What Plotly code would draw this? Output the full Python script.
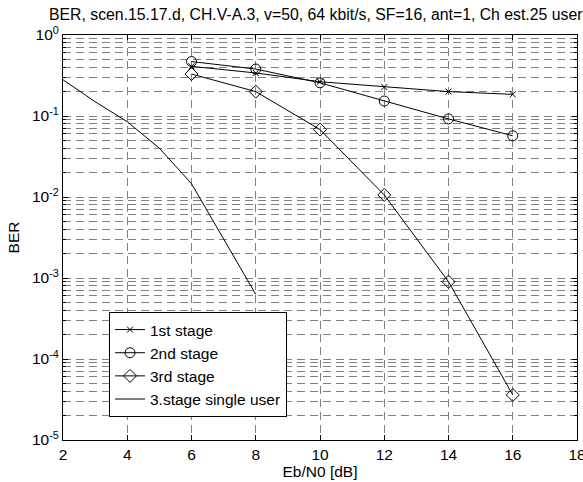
import plotly.graph_objects as go

# ---- data ----
x_stage = [6, 8, 10, 12, 14, 16]
ber_1st = [0.41, 0.34, 0.265, 0.228, 0.20, 0.185]
ber_2nd = [0.47, 0.38, 0.257, 0.153, 0.092, 0.057]
ber_3rd = [0.33, 0.20, 0.068, 0.0106, 0.0009, 3.6e-5]
x_single = [2, 3, 4, 5, 6, 7, 8]
ber_single = [0.28, 0.15, 0.085, 0.04, 0.0146, 0.003, 0.00063]

x_ticks = [2, 4, 6, 8, 10, 12, 14, 16, 18]
y_exps = [0, -1, -2, -3, -4, -5]
y_ticktext = ["10<sup>%d</sup>" % e for e in y_exps]

title = "BER, scen.15.17.d, CH.V-A.3, v=50, 64 kbit/s, SF=16, ant=1, Ch est.25 users"

FONT = "Liberation Sans, Arial, sans-serif"
FS = 15.5
W, H = 583, 482
L, R, T, B = 63, 6, 35, 42

fig = go.Figure()
line = dict(color="black", width=1)
fig.add_trace(go.Scatter(x=x_stage, y=ber_1st, mode="lines+markers", name="1st stage",
                         line=line, marker=dict(symbol="x-thin-open", size=6,
                                                line=dict(color="black", width=1), color="black")))
fig.add_trace(go.Scatter(x=x_stage, y=ber_2nd, mode="lines+markers", name="2nd stage",
                         line=line, marker=dict(symbol="circle-open", size=10, color="black",
                                                line=dict(width=1))))
fig.add_trace(go.Scatter(x=x_stage, y=ber_3rd, mode="lines+markers", name="3rd stage",
                         line=line, marker=dict(symbol="diamond-open", size=10, color="black",
                                                line=dict(width=1))))
fig.add_trace(go.Scatter(x=x_single, y=ber_single, mode="lines", name="3.stage single user",
                         line=line))

grid = dict(gridcolor="#808080", gridwidth=1, griddash="8px,5px")
minor_vals = [m * 10.0 ** e for e in range(-5, 0) for m in range(2, 10)]

PH = H - T - B
fig.update_layout(
    width=W, height=H,
    margin=dict(l=L, r=R, t=T, b=B, pad=0, autoexpand=False),
    paper_bgcolor="white", plot_bgcolor="white",
    font=dict(family=FONT, size=FS, color="black"),
    showlegend=True,
    legend=dict(x=(109 - L) / (W - L - R), y=1 - (364.5 - T) / PH,
                xanchor="left", yanchor="middle",
                bgcolor="white", bordercolor="black", borderwidth=1,
                font=dict(family=FONT, size=FS), tracegroupgap=0,
                itemwidth=30),
    title=dict(text=title, x=49 / W, xanchor="left", xref="container",
               y=1 - 14 / H, yanchor="middle", yref="container",
               font=dict(family=FONT, size=15.8)),
    xaxis=dict(range=[2, 18], tickvals=x_ticks, ticks="inside", ticklen=5,
               tickcolor="black", showline=True, linecolor="black", linewidth=1,
               mirror="ticks", showgrid=True, zeroline=False, automargin=False,
               ticklabeloverflow="allow",
               title=dict(text="Eb/N0 [dB]", standoff=2, font=dict(size=FS)),
               tickfont=dict(size=FS), **grid),
    yaxis=dict(type="log", range=[-5, 0], tickvals=[10.0 ** e for e in y_exps],
               ticktext=y_ticktext, ticks="inside", ticklen=5, tickcolor="black",
               showline=True, linecolor="black", linewidth=1, mirror="ticks",
               showgrid=True, zeroline=False, automargin=False,
               title=dict(text="BER", standoff=8, font=dict(size=FS)),
               tickfont=dict(size=FS),
               minor=dict(tickvals=minor_vals, ticks="inside", ticklen=3,
                          tickcolor="black", showgrid=True, **grid),
               **grid),
)

fig.write_html("out.html", config={"displayModeBar": False},
               post_script="document.body.style.margin='0px';document.body.style.overflow='hidden';")
